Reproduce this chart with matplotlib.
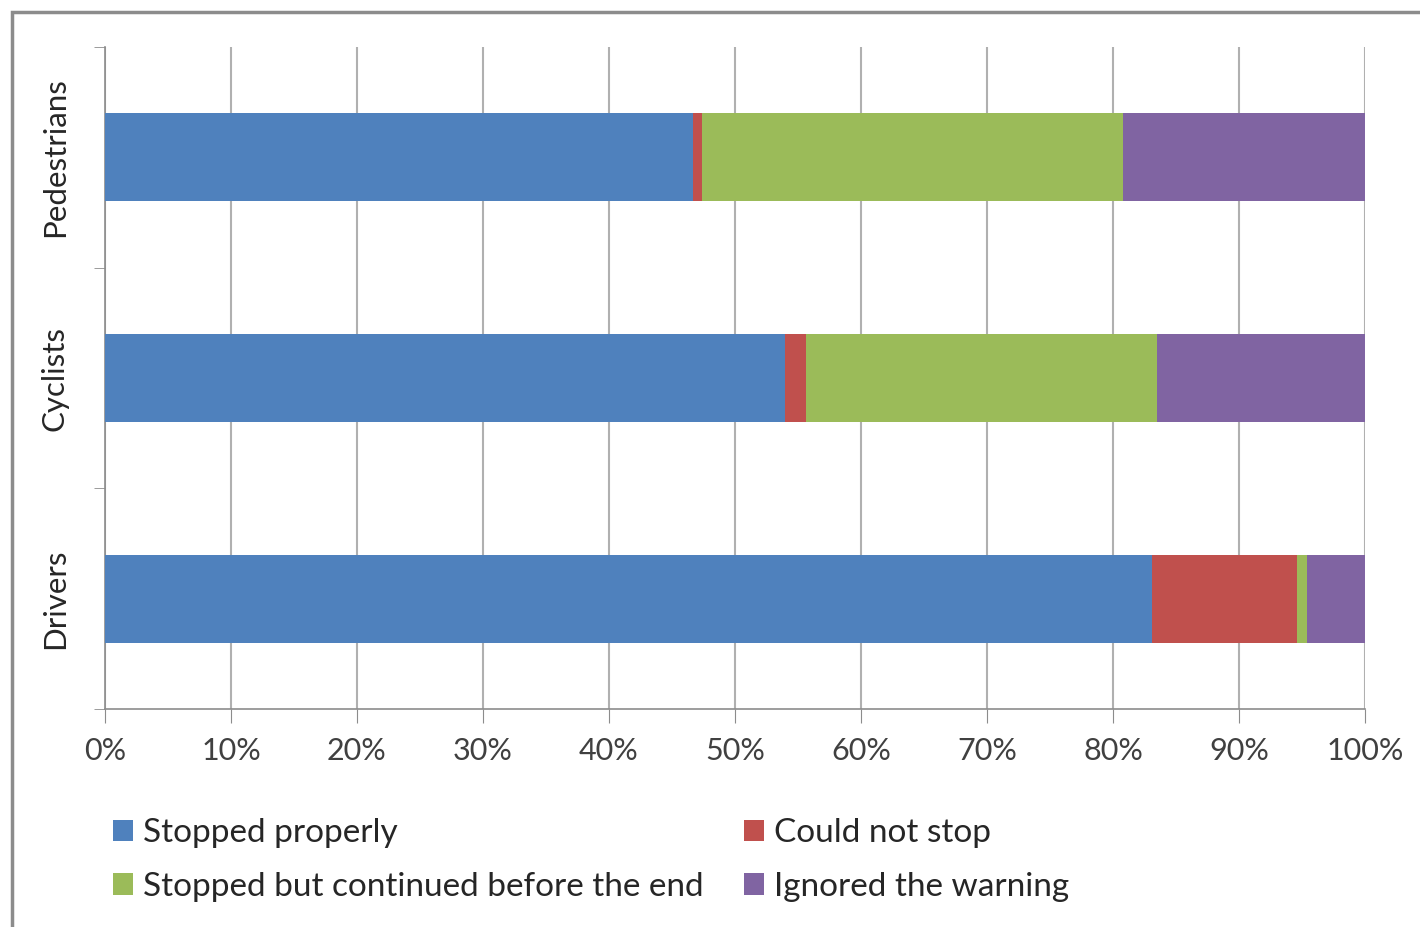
import numpy as np
import matplotlib.pyplot as plt
from matplotlib.patches import Rectangle
from matplotlib.ticker import PercentFormatter

plt.rcParams['font.family'] = ['Lato', 'DejaVu Sans']

# Datos (porcentajes)
grupos = ['Drivers', 'Cyclists', 'Pedestrians']
series = ['Stopped properly', 'Could not stop',
          'Stopped but continued before the end', 'Ignored the warning']
stopped = [83.1, 54.0, 46.7]
could_not = [11.5, 1.6, 0.7]
continued = [0.8, 27.9, 33.4]
ignored = [4.6, 16.5, 19.2]
colores = ['#4F81BD', '#C0504D', '#9BBB59', '#8064A2']

fig = plt.figure(figsize=(14.2, 9.27), dpi=100)
ax = fig.add_axes([105 / 1420, 1 - 709 / 927, 1260 / 1420, 662 / 927])

# Marco exterior del grafico
fig.patches.append(Rectangle((12 / 1420, -0.1), 1.2, 1 - 12 / 927 + 0.1,
                             transform=fig.transFigure, fill=False,
                             edgecolor='#8c8c8c', linewidth=2.5))

y = np.arange(len(grupos))
izq = np.zeros(len(grupos))
barras = []
for vals, col in zip([stopped, could_not, continued, ignored], colores):
    b = ax.barh(y, vals, left=izq, height=0.4, color=col, zorder=3)
    barras.append(b)
    izq += np.array(vals)

ax.set_xlim(0, 100)
ax.set_ylim(-0.5, 2.5)
ax.set_xticks(np.arange(0, 101, 10))
ax.xaxis.set_major_formatter(PercentFormatter(decimals=0))
ax.set_yticks(y)
ax.set_yticklabels(grupos, rotation=90, va='center', fontsize=22.5, color='#262626')
ax.set_yticks(np.arange(-0.5, 2.6, 1), minor=True)
ax.tick_params(axis='y', which='major', length=0, pad=26)
ax.tick_params(axis='y', which='minor', length=8, color='#8c8c8c')
ax.tick_params(axis='x', length=10, color='#8c8c8c', labelsize=22,
               labelcolor='#404040', pad=10, direction='out')
ax.grid(axis='x', color='#b0b0b0', linewidth=1.5, zorder=0)

for lado in ['top', 'right']:
    ax.spines[lado].set_visible(False)
for lado in ['left', 'bottom']:
    ax.spines[lado].set_color('#8c8c8c')
    ax.spines[lado].set_linewidth(1.2)

# Leyenda (orden por filas como en el original)
orden = [0, 2, 1, 3]
fig.legend([barras[i] for i in orden], [series[i] for i in orden],
           loc='upper left', bbox_to_anchor=(100 / 1420, 1 - 805 / 927),
           ncol=2, frameon=False, fontsize=24, handlelength=0.6,
           handleheight=0.6, handletextpad=0.3, columnspacing=1.2,
           labelspacing=0.7, borderaxespad=0, labelcolor='#262626')

plt.savefig('out.png', dpi=100)
